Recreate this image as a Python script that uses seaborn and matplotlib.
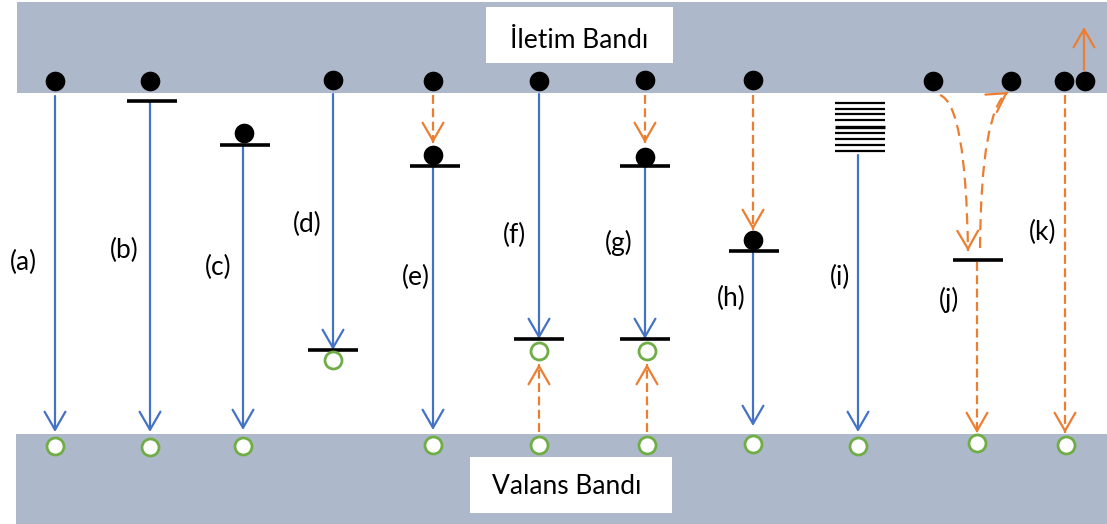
import numpy as np
import pandas as pd
import matplotlib
matplotlib.use("Agg")
import matplotlib.pyplot as plt
import seaborn as sns
from matplotlib.patches import Rectangle, FancyArrowPatch, ArrowStyle, PathPatch
from matplotlib.path import Path

# ---------------- data (diagram, pixel units) ----------------
band_labels = ["İletim Bandı", "Valans Bandı"]
band_label_x = [579, 567]
band_label_y = [40, 486]

case_labels = ["(a)", "(b)", "(c)", "(d)", "(e)", "(f)", "(g)", "(h)", "(i)", "(j)", "(k)"]
case_label_x = [23, 124, 218, 307, 416, 515, 619, 731, 840, 949, 1043]
case_label_y = [262, 250, 267, 224, 277, 235, 243, 298, 277, 300, 232]

# electrons (filled black dots)
elec_x = [55, 150, 333, 433, 539, 645, 753, 933, 1011, 1064, 1085,   # in conduction band
          244, 433, 645, 753]                                      # trapped on levels
elec_y = [81, 81, 80, 81, 81, 80, 80, 81, 81, 81, 81,
          133, 155, 157, 240]

# holes (open green circles)
hole_x = [55, 150, 243, 333, 433, 539, 539, 647, 647, 753, 858, 977, 1066]
hole_y = [446, 447, 446, 360, 445, 351, 445, 351, 445, 444, 446, 443, 445]

# localized levels (black bars), centre x / y
level_x = [152, 245, 333, 435, 539, 645, 645, 754, 978]
level_y = [101, 145, 350, 166, 339, 166, 339, 251, 260]

# blue radiative transitions: x, start y, tip y
blue_x = [55, 150, 243, 333, 433, 539, 645, 753, 858]
blue_y0 = [96, 101, 145, 94, 166, 94, 166, 251, 155]
blue_y1 = [432, 432, 430, 350, 430, 339, 339, 426, 432]

# orange dashed downward transitions: x, start y, tip y
odown_x = [433, 645, 753, 977, 1065]
odown_y0 = [95, 95, 95, 262, 95]
odown_y1 = [143, 143, 230, 433, 433]

# orange dashed upward transitions (hole capture)
oup_x = [539, 647]
oup_y0 = [432, 432]
oup_y1 = [364, 364]

# orange solid upward arrow (Auger electron)
osolid_x = [1084]
osolid_y0 = [70]
osolid_y1 = [27]

# (j) curved transitions: quadratic Bezier control points
curve1 = [(940, 95), (966, 105), (968, 251)]
curve2 = [(980, 248), (981, 110), (1008, 92)]

# (i) band of closely spaced levels
hatch_y = [103, 108.5, 114, 120, 127, 133, 139, 145, 151]
hatch_x = [835, 885]

# colours
BAND = "#ADB9CA"
BLUE = "#4472C4"
ORANGE = "#ED7D31"
GREEN = "#70AD47"

# ---------------- figure ----------------
sns.set_theme(style="white")
plt.rcParams["font.family"] = ["Lato", "DejaVu Sans"]

fig = plt.figure(figsize=(11.07, 5.24), dpi=100)
ax = fig.add_axes([0, 0, 1, 1])
ax.set_xlim(0, 1107)
ax.set_ylim(524, 0)
ax.axis("off")

# bands
ax.add_patch(Rectangle((17, 2), 1090, 91, facecolor=BAND, edgecolor="none", zorder=0))
ax.add_patch(Rectangle((16, 434), 1091, 90, facecolor=BAND, edgecolor="none", zorder=0))

# band label boxes
ax.add_patch(Rectangle((486, 7), 187, 56, facecolor="white", edgecolor="none", zorder=1))
ax.add_patch(Rectangle((470, 457), 202, 56, facecolor="white", edgecolor="none", zorder=1))
for t, x, y in zip(band_labels, band_label_x, band_label_y):
    ax.text(x, y, t, ha="center", va="center", fontsize=19, color="black", zorder=2)

for t, x, y in zip(case_labels, case_label_x, case_label_y):
    ax.text(x, y, t, ha="center", va="center", fontsize=19, color="black", zorder=2)

LW = 1.6
head = ArrowStyle("->", head_length=13, head_width=7.5)


def arrow_head(p_from, p_to, color):
    ax.add_patch(FancyArrowPatch(p_from, p_to, arrowstyle=head, mutation_scale=1,
                                 color=color, lw=LW, shrinkA=0, shrinkB=0, zorder=3))


# blue solid arrows
for x, y0, y1 in zip(blue_x, blue_y0, blue_y1):
    ax.add_patch(FancyArrowPatch((x, y0), (x, y1), arrowstyle=head, mutation_scale=1,
                                 color=BLUE, lw=LW, shrinkA=0, shrinkB=0, zorder=3))

# orange dashed arrows (down and up)
for xs, y0s, y1s in [(odown_x, odown_y0, odown_y1), (oup_x, oup_y0, oup_y1)]:
    for x, y0, y1 in zip(xs, y0s, y1s):
        ax.plot([x, x], [y0, y1], color=ORANGE, lw=LW, ls=(0, (4, 2)), zorder=3)
        d = 1 if y1 > y0 else -1
        arrow_head((x, y1 - 3 * d), (x, y1), ORANGE)

# orange solid arrow
for x, y0, y1 in zip(osolid_x, osolid_y0, osolid_y1):
    ax.add_patch(FancyArrowPatch((x, y0), (x, y1), arrowstyle=head, mutation_scale=1,
                                 color=ORANGE, lw=LW, shrinkA=0, shrinkB=0, zorder=3))

# curved dashed arrows for (j)
for pts in [curve1, curve2]:
    path = Path(pts, [Path.MOVETO, Path.CURVE3, Path.CURVE3])
    ax.add_patch(PathPatch(path, facecolor="none", edgecolor=ORANGE, lw=LW,
                           ls=(0, (5, 3)), zorder=3))
    p1 = np.array(pts[1], float)
    p2 = np.array(pts[2], float)
    v = (p2 - p1) / np.linalg.norm(p2 - p1)
    arrow_head(tuple(p2 - 3 * v), tuple(p2), ORANGE)

# levels
for x, y in zip(level_x, level_y):
    ax.plot([x - 25, x + 25], [y, y], color="black", lw=2.6, solid_capstyle="butt", zorder=4)

# closely spaced levels (i)
for y in hatch_y:
    ax.plot(hatch_x, [y, y], color="black", lw=1.6 if y != 127 else 2.4,
            solid_capstyle="butt", zorder=4)

# electrons and holes via seaborn
elec_df = pd.DataFrame({"x": elec_x, "y": elec_y})
hole_df = pd.DataFrame({"x": hole_x, "y": hole_y})
sns.scatterplot(data=elec_df, x="x", y="y", ax=ax, s=200, color="black",
                edgecolor="black", linewidth=0, zorder=5, legend=False)
sns.scatterplot(data=hole_df, x="x", y="y", ax=ax, s=150, color="white",
                edgecolor=GREEN, linewidth=2, zorder=5, legend=False)
ax.set_xlim(0, 1107)
ax.set_ylim(524, 0)
ax.axis("off")

fig.savefig("out.png", dpi=100)
